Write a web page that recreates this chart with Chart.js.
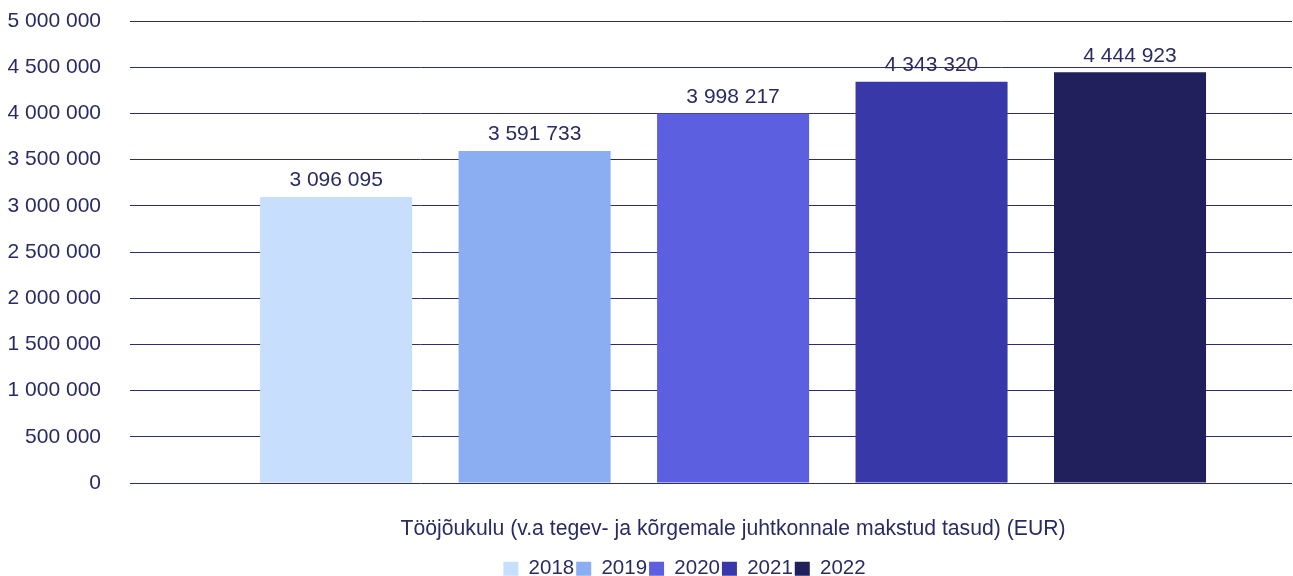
<!DOCTYPE html>
<html>
<head>
<meta charset="utf-8">
<script src="https://cdn.jsdelivr.net/npm/chart.js@4.4.1/dist/chart.umd.min.js"></script>
<style>
  html, body { margin: 0; padding: 0; background: #ffffff; overflow: hidden; }
  #wrap { width: 1293px; height: 576px; position: relative; }
</style>
</head>
<body>
<div id="wrap"><canvas id="c"></canvas></div>
<script>
const categories = ['Tööjõukulu (v.a tegev- ja kõrgemale juhtkonnale makstud tasud) (EUR)'];
const years = ['2018', '2019', '2020', '2021', '2022'];
const values = [3096095, 3591733, 3998217, 4343320, 4444923];
const yTicks = [0, 500000, 1000000, 1500000, 2000000, 2500000, 3000000, 3500000, 4000000, 4500000, 5000000];
const colors = ['#c7dffc', '#8badf2', '#5b5fe0', '#3838a8', '#21205c'];

const textColor = '#2a2b62';
const gridColor = '#2d2d70';
const FONT = "'Liberation Sans', Arial, sans-serif";
const X_MIN = -0.519, X_MAX = 0.481;

function fmt(v) {
  return String(v).replace(/\B(?=(\d{3})+(?!\d))/g, ' ');
}

const datasets = years.map((y, i) => ({
  label: y,
  data: [{ x: 0, y: values[i] }],
  backgroundColor: colors[i],
  borderWidth: 0,
  categoryPercentage: 0.854,
  barPercentage: 0.766
}));

const valueLabels = {
  id: 'valueLabels',
  afterDatasetsDraw(chart) {
    const ctx = chart.ctx;
    ctx.save();
    ctx.font = '21px ' + FONT;
    ctx.fillStyle = textColor;
    ctx.textAlign = 'center';
    ctx.textBaseline = 'middle';
    chart.data.datasets.forEach((ds, i) => {
      const meta = chart.getDatasetMeta(i);
      meta.data.forEach((bar) => {
        ctx.fillText(fmt(values[i]), bar.x, bar.y - 16.5);
      });
    });
    ctx.restore();
  }
};

// let the y-axis labels extend to the left edge of the canvas
const yAxisExtend = {
  id: 'yAxisExtend',
  afterLayout(chart) { chart.scales.y.left = 0; }
};

new Chart(document.getElementById('c'), {
  type: 'bar',
  data: { datasets },
  plugins: [valueLabels, yAxisExtend],
  options: {
    responsive: true,
    maintainAspectRatio: false,
    animation: false,
    layout: { padding: { left: 77, right: 1, top: 21, bottom: -13 } },
    plugins: {
      tooltip: { enabled: false },
      legend: {
        position: 'bottom',
        labels: {
          boxWidth: 15,
          boxHeight: 14,
          padding: 2,
          color: textColor,
          font: { family: FONT, size: 20.5 }
        }
      }
    },
    scales: {
      x: {
        type: 'linear',
        min: X_MIN,
        max: X_MAX,
        bounds: 'data',
        offset: false,
        grid: { display: false },
        border: { display: false },
        afterDataLimits(scale) { scale.min = X_MIN; scale.max = X_MAX; },
        afterBuildTicks(scale) {
          scale.ticks = categories.map((c, i) => ({ value: i }));
          scale.min = X_MIN;
          scale.max = X_MAX;
        },
        afterFit(scale) { scale.height = 73.5; },
        ticks: {
          padding: 25,
          color: textColor,
          font: { family: FONT, size: 21.2 },
          maxRotation: 0,
          autoSkip: false,
          callback: (v) => categories[v] !== undefined ? categories[v] : ''
        }
      },
      y: {
        min: 0,
        max: 5000000,
        afterBuildTicks(scale) { scale.ticks = yTicks.map(v => ({ value: v })); },
        afterFit(scale) { scale.width = 53; },
        grid: { color: gridColor, lineWidth: 1, drawTicks: true, tickLength: 29, tickColor: 'rgba(0,0,0,0)' },
        border: { display: false },
        ticks: {
          padding: 0,
          color: textColor,
          font: { family: FONT, size: 21 },
          callback: (v) => fmt(v)
        }
      }
    }
  }
});
</script>
</body>
</html>
